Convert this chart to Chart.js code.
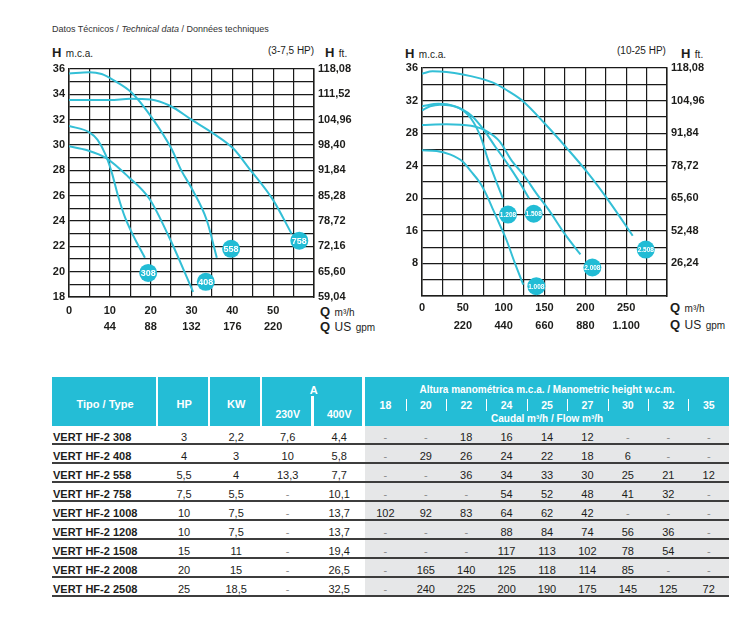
<!DOCTYPE html>
<html>
<head>
<meta charset="utf-8">
<script src="https://cdn.jsdelivr.net/npm/chart.js@4.4.1/dist/chart.umd.min.js"></script>
<style>
  body { margin: 0; width: 742px; height: 637px; background: #fff; position: relative; overflow: hidden;
         font-family: "Liberation Sans", Arial, sans-serif; color: #1d1d1b; }
  .t { position: absolute; white-space: nowrap; }
  .big { font-weight: bold; font-size: 13px; }
  .sm { font-size: 10px; }
  .box { position: absolute; }
  #tbl { position: absolute; left: 52px; top: 377px; width: 677px; border-collapse: separate; border-spacing: 0;
         table-layout: fixed; font-size: 11px; }
  #tbl th { background: #24bdd6; color: #fff; font-weight: bold; padding: 0; text-align: center; }
  #tbl td { padding: 5px 0 0 0; height: 12px; line-height: 12px; text-align: center; border-bottom: 2px solid #3d3d3d; }
  #tbl td.name { text-align: left; font-weight: bold; padding-left: 1px; }
  #tbl td.flow { background: #e6e7e8; }
  #tbl td.dash { color: #8a8a8a; }
  .sep { box-shadow: inset -2px 0 0 #fff; }
</style>
</head>
<body>

<div class="t" style="left:52px; top:24px; font-size:9px; color:#333;">Datos Técnicos / <i>Technical data</i> / Données techniques</div>

<div class="t" style="left:52px; top:43px;"><span class="big">H</span> <span class="sm">m.c.a.</span></div>
<div class="t sm" style="left:268px; top:45px;">(3-7,5 HP)</div>
<div class="t" style="left:325px; top:43px;"><span class="big">H</span> <span class="sm">ft.</span></div>
<div class="t" style="left:320px; top:302px;"><span class="big">Q</span> <span class="sm">m³/h</span></div>
<div class="t" style="left:320px; top:317px;"><span class="big">Q</span> <span style="font-size:12px">US</span> <span class="sm">gpm</span></div>

<div class="t" style="left:405px; top:44px;"><span class="big">H</span> <span class="sm">m.c.a.</span></div>
<div class="t sm" style="left:617px; top:45px;">(10-25 HP)</div>
<div class="t" style="left:681px; top:44px;"><span class="big">H</span> <span class="sm">ft.</span></div>
<div class="t" style="left:670px; top:298px;"><span class="big">Q</span> <span class="sm">m³/h</span></div>
<div class="t" style="left:670px; top:315px;"><span class="big">Q</span> <span style="font-size:12px">US</span> <span class="sm">gpm</span></div>

<div class="box" style="left:40px; top:55px; width:330px; height:285px;"><canvas id="chartSmall"></canvas></div>
<div class="box" style="left:390px; top:55px; width:350px; height:285px;"><canvas id="chartLarge"></canvas></div>

<table id="tbl"></table>

<script>
// ---------- data: 3-7,5 HP curves (Q m3/h, H m.c.a.) ----------
const q308 = [0, 5, 7, 9, 10.5, 12, 13.7, 15.2, 16.6, 18.6];
const h308 = [31.5, 31.0, 30.4, 29.2, 27.8, 26.0, 24.3, 23.2, 22.3, 21.1];
const q408 = [0, 4.3, 9.2, 14.5, 19.8, 24.7, 30.4];
const h408 = [29.9, 29.6, 28.95, 27.5, 25.7, 22.6, 18.4];
const q558 = [0, 5, 8, 11, 15.3, 20.2, 25.1, 27.5, 30, 33.7, 36.2];
const h558 = [35.65, 35.75, 35.6, 35.1, 34.15, 32.2, 29.7, 28.0, 26.6, 24.1, 21.1];
const q758 = [0, 10, 15, 20, 24.75, 30, 35.4, 40.3, 44, 50, 54.5];
const h758 = [33.55, 33.55, 33.65, 33.6, 33.1, 32.0, 30.9, 29.7, 28.2, 25.65, 23.0];

const smallBadgeNames = ['308', '408', '558', '758'];
const smallBadgeQ = [19.4, 33.5, 39.7, 56.4];
const smallBadgeH = [19.9, 19.2, 21.8, 22.45];

const smallQTicks = [0, 10, 20, 30, 40, 50];
const smallQLabels = ['0', '10', '20', '30', '40', '50'];
const smallGpmLabels = ['', '44', '88', '132', '176', '220'];
const smallHTicks = [36, 34, 32, 30, 28, 26, 24, 22, 20, 18];
const smallHLabels = ['36', '34', '32', '30', '28', '26', '24', '22', '20', '18'];
const smallFtLabels = ['118,08', '111,52', '104,96', '98,40', '91,84', '85,28', '78,72', '72,16', '65,60', '59,04'];

// ---------- data: 10-25 HP curves ----------
const q1008 = [0, 18, 34, 50, 60, 71, 80, 87, 95, 103, 113.5, 124];
const h1008 = [25.9, 25.8, 25.4, 24.5, 23.3, 21.9, 20.2, 18.6, 16.8, 15.0, 12.1, 9.4];
const q1208 = [0, 10, 22, 45, 60, 72, 80, 90, 99];
const h1208 = [30.8, 31.3, 31.5, 31.1, 29.8, 27.5, 25.0, 22.3, 20.0];
const q1508 = [0, 20, 40, 60, 75, 90, 105, 118, 131];
const h1508 = [31.3, 31.6, 31.3, 30.2, 28.5, 26.3, 24.2, 22.2, 20.0];
const q2008 = [0, 30, 60, 80, 95, 110, 125, 140, 155, 175, 194];
const h2008 = [29.0, 29.1, 28.9, 28.2, 27.0, 24.6, 22.8, 20.6, 18.6, 15.6, 13.1];
const q2508 = [0, 13, 50, 87, 105, 124, 152, 177, 204, 230, 258];
const h2508 = [35.3, 35.6, 35.2, 34.2, 33.2, 31.9, 29.0, 26.2, 23.0, 19.5, 15.4];

const largeBadgeNames = ['1.008', '1.208', '1.508', '2.008', '2.508'];
const largeBadgeQ = [140, 105.3, 136.8, 208.6, 274];
const largeBadgeH = [9.2, 18.0, 18.1, 11.5, 13.7];

const largeQTicks = [0, 50, 100, 150, 200, 250];
const largeQLabels = ['0', '50', '100', '150', '200', '250'];
const largeGpmLabels = ['', '220', '440', '660', '880', '1.100'];
const largeHTicks = [36, 32, 28, 24, 20, 16, 12];
const largeHLabels = ['36', '32', '28', '24', '20', '16', '8'];
const largeFtLabels = ['118,08', '104,96', '91,84', '78,72', '65,60', '52,48', '26,24'];

// ---------- data: table ----------
const tipos = ['VERT HF-2 308', 'VERT HF-2 408', 'VERT HF-2 558', 'VERT HF-2 758', 'VERT HF-2 1008',
               'VERT HF-2 1208', 'VERT HF-2 1508', 'VERT HF-2 2008', 'VERT HF-2 2508'];
const hp = ['3', '4', '5,5', '7,5', '10', '10', '15', '20', '25'];
const kw = ['2,2', '3', '4', '5,5', '7,5', '7,5', '11', '15', '18,5'];
const amp230 = ['7,6', '10', '13,3', '-', '-', '-', '-', '-', '-'];
const amp400 = ['4,4', '5,8', '7,7', '10,1', '13,7', '13,7', '19,4', '26,5', '32,5'];
const alturas = ['18', '20', '22', '24', '25', '27', '30', '32', '35'];
const caudal = [
  ['-', '-', '18', '16', '14', '12', '-', '-', '-'],
  ['-', '29', '26', '24', '22', '18', '6', '-', '-'],
  ['-', '-', '36', '34', '33', '30', '25', '21', '12'],
  ['-', '-', '-', '54', '52', '48', '41', '32', '-'],
  ['102', '92', '83', '64', '62', '42', '-', '-', '-'],
  ['-', '-', '-', '88', '84', '74', '56', '36', '-'],
  ['-', '-', '-', '117', '113', '102', '78', '54', '-'],
  ['-', '165', '140', '125', '118', '114', '85', '-', '-'],
  ['-', '240', '225', '200', '190', '175', '145', '125', '72']
];

// ---------- charts ----------
const FONT = '"Liberation Sans", Arial, sans-serif';
const INK = '#1d1d1b';
const GRID = '#1a1a1a';
const CURVE = '#33bfd6';
const BADGE = '#22bcd5';

Chart.defaults.font.family = FONT;

const badgeText = {
  id: 'badgeText',
  afterDatasetsDraw(chart) {
    const ctx = chart.ctx;
    chart.data.datasets.forEach((ds, i) => {
      if (!ds.badges) return;
      chart.getDatasetMeta(i).data.forEach((pt, j) => {
        ctx.save();
        ctx.fillStyle = '#fff';
        ctx.font = ds.badgeFont;
        ctx.textAlign = 'center';
        ctx.textBaseline = 'middle';
        ctx.fillText(ds.badges[j], pt.x, pt.y + 0.5);
        ctx.restore();
      });
    });
  }
};

function pick(ticks, labels) {
  return v => {
    const i = ticks.indexOf(v);
    return i >= 0 ? labels[i] : '';
  };
}

function buildChart(id, c) {
  const tickFont = { size: 11, weight: 'bold' };
  const datasets = [{
    type: 'scatter',
    data: c.badgeQ.map((q, i) => ({ x: q, y: c.badgeH[i] })),
    badges: c.badgeNames,
    badgeFont: c.badgeFont,
    pointRadius: 9,
    pointHoverRadius: 9,
    backgroundColor: BADGE,
    borderWidth: 0,
    order: -1,
    clip: false
  }];
  c.curves.forEach(cv => datasets.push({
    type: 'line',
    data: cv[0].map((q, i) => ({ x: q, y: cv[1][i] })),
    borderColor: CURVE,
    borderWidth: 2,
    pointRadius: 0,
    fill: false,
    cubicInterpolationMode: 'monotone'
  }));

  return new Chart(document.getElementById(id), {
    type: 'line',
    data: { datasets },
    plugins: [badgeText],
    options: {
      responsive: true,
      maintainAspectRatio: false,
      animation: false,
      layout: { padding: { top: c.padTop, left: 0, right: 0, bottom: 0 } },
      plugins: { legend: { display: false }, tooltip: { enabled: false } },
      scales: {
        x: {
          type: 'linear', position: 'bottom', min: 0, max: c.qMax,
          ticks: { stepSize: c.qStep, autoSkip: false, maxRotation: 0, padding: c.xPad, font: tickFont, color: INK,
                   callback: pick(c.qTicks, c.qLabels) },
          grid: { color: GRID, lineWidth: 1.2, drawTicks: false },
          border: { color: INK, width: 1.5 },
          afterFit: s => { s.height = c.xH; }
        },
        x2: {
          type: 'linear', position: 'bottom', min: 0, max: c.qMax,
          ticks: { stepSize: c.qStep, autoSkip: false, maxRotation: 0, padding: c.x2Pad, font: tickFont, color: INK,
                   callback: pick(c.qTicks, c.gpmLabels) },
          grid: { display: false, drawTicks: false },
          border: { display: false },
          afterFit: s => { s.height = c.x2H; }
        },
        y: {
          type: 'linear', position: 'left', min: c.hMin, max: c.hMax,
          ticks: { stepSize: c.hStep, autoSkip: false, padding: 4, font: tickFont, color: INK,
                   callback: pick(c.hTicks, c.hLabels) },
          grid: { color: GRID, lineWidth: 1.2, drawTicks: false },
          border: { color: INK, width: 1.5 },
          afterFit: s => { s.width = c.yW; }
        },
        y2: {
          type: 'linear', position: 'right', min: c.hMin, max: c.hMax,
          ticks: { stepSize: c.hStep, autoSkip: false, padding: 4, font: tickFont, color: INK,
                   callback: pick(c.hTicks, c.ftLabels) },
          grid: { display: false, drawTicks: false },
          border: { color: INK, width: 1.5 },
          afterFit: s => { s.width = c.y2W; }
        }
      }
    }
  });
}

buildChart('chartSmall', {
  curves: [[q308, h308], [q408, h408], [q558, h558], [q758, h758]],
  badgeNames: smallBadgeNames, badgeQ: smallBadgeQ, badgeH: smallBadgeH, badgeFont: 'bold 9px ' + FONT,
  qMax: 60, qStep: 5, qTicks: smallQTicks, qLabels: smallQLabels, gpmLabels: smallGpmLabels,
  hMin: 18, hMax: 36, hStep: 1, hTicks: smallHTicks, hLabels: smallHLabels, ftLabels: smallFtLabels,
  padTop: 14, xH: 18, x2H: 25, xPad: 7, x2Pad: 5, yW: 29, y2W: 56
});

buildChart('chartLarge', {
  curves: [[q1008, h1008], [q1208, h1208], [q1508, h1508], [q2008, h2008], [q2508, h2508]],
  badgeNames: largeBadgeNames, badgeQ: largeBadgeQ, badgeH: largeBadgeH, badgeFont: 'bold 6.5px ' + FONT,
  qMax: 300, qStep: 25, qTicks: largeQTicks, qLabels: largeQLabels, gpmLabels: largeGpmLabels,
  hMin: 8, hMax: 36, hStep: 2, hTicks: largeHTicks, hLabels: largeHLabels, ftLabels: largeFtLabels,
  padTop: 13, xH: 17, x2H: 27, xPad: 5, x2Pad: 6, yW: 32, y2W: 73
});

// ---------- table ----------
const tbl = document.getElementById('tbl');
let html = '<colgroup><col style="width:106px"><col style="width:52px"><col style="width:52px">' +
           '<col style="width:51px"><col style="width:52px">' +
           alturas.map(() => '<col style="width:40.4px">').join('') + '</colgroup>';
const numBg = i => i === 0 ? 'background:#24bdd6;' :
  'background:linear-gradient(#fff,#fff) left center / 1px 12px no-repeat, #24bdd6;';
html += '<tr style="height:19px">' +
  '<th rowspan="3" class="sep" style="font-size:11px; padding-top:4px">Tipo / Type</th>' +
  '<th rowspan="3" class="sep" style="font-size:11px; padding-top:4px">HP</th>' +
  '<th rowspan="3" class="sep" style="font-size:11px; padding-top:4px">KW</th>' +
  '<th colspan="2" class="sep" style="font-size:11px; box-shadow: inset -3px 0 0 #fff; vertical-align:bottom">A</th>' +
  '<th colspan="9" style="font-size:10px; vertical-align:bottom; padding-bottom:1px">Altura manométrica m.c.a. / Manometric height w.c.m.</th></tr>';
html += '<tr style="height:17px">' +
  '<th rowspan="2" class="sep" style="font-size:10.5px; padding-top:6px">230V</th>' +
  '<th rowspan="2" style="font-size:10.5px; padding-top:6px; box-shadow: inset 1px 0 0 #fff, inset -3px 0 0 #fff">400V</th>' +
  alturas.map((a, i) => '<th style="font-size:10.5px; ' + numBg(i) + '">' + a + '</th>').join('') + '</tr>';
html += '<tr style="height:13px"><th colspan="9" style="font-size:10px; vertical-align:top; line-height:11px">Caudal m³/h / Flow m³/h</th></tr>';

tipos.forEach((t, r) => {
  const cell = (v, cls) => '<td class="' + cls + (v === '-' ? ' dash' : '') + '">' + v + '</td>';
  html += '<tr>' + '<td class="name">' + t + '</td>' +
    cell(hp[r], '') + cell(kw[r], '') + cell(amp230[r], '') + cell(amp400[r], '') +
    caudal[r].map(v => cell(v, 'flow')).join('') + '</tr>';
});
tbl.innerHTML = html;
</script>
</body>
</html>
